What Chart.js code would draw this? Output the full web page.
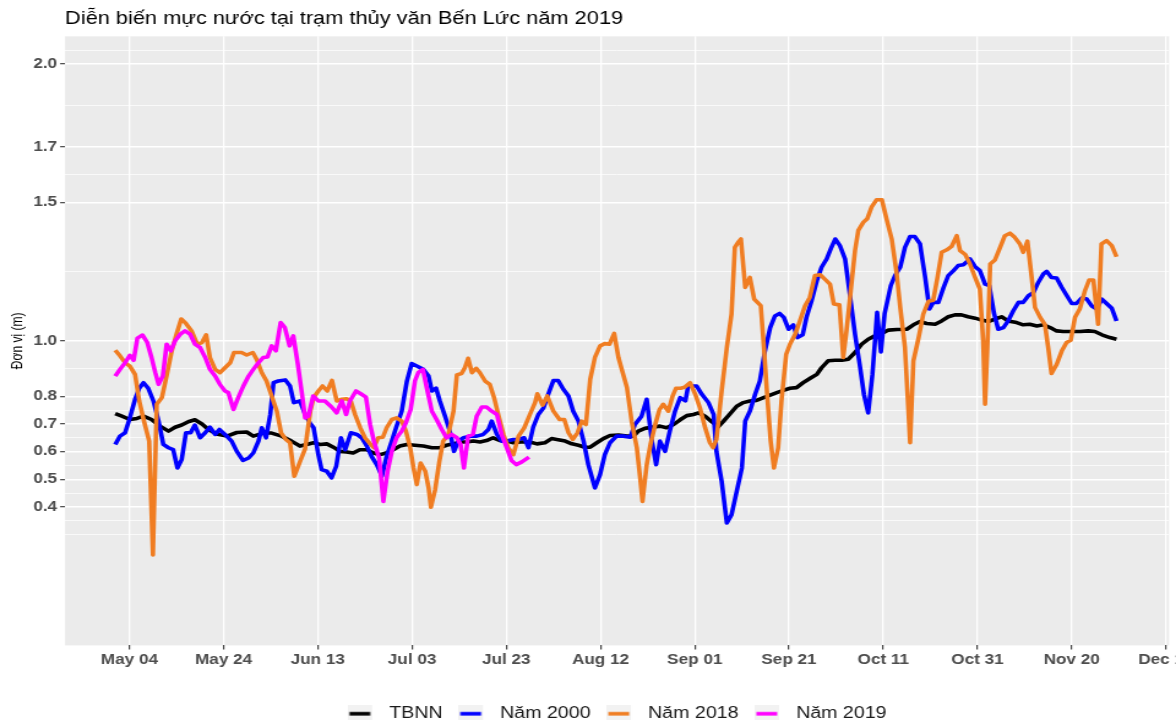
<!DOCTYPE html>
<html><head><meta charset="utf-8">
<script src="https://cdn.jsdelivr.net/npm/chart.js@4.4.1/dist/chart.umd.min.js"></script>
<style>
html,body{margin:0;padding:0;background:#fff;overflow:hidden;width:1176px;height:720px;}
#wrap{position:absolute;left:0;top:0;width:1000px;height:740px;transform:scaleX(1.225);transform-origin:0 0;}
canvas{display:block;}
</style></head><body>
<div id="wrap"><canvas id="c" width="1000" height="740"></canvas></div>
<script>
// Day offsets counted from 2019-05-01 (day 0) ; values in metres
const tickDays   = [3, 23, 43, 63, 83, 103, 123, 143, 163, 183, 203, 223];
const tickLabels = ['May 04','May 24','Jun 13','Jul 03','Jul 23','Aug 12','Sep 01','Sep 21','Oct 11','Oct 31','Nov 20','Dec 10'];
const yMajorTicks = [0.4, 0.5, 0.6, 0.7, 0.8, 1.0, 1.5, 1.7, 2.0];
const yMinorTicks = [0.3, 0.35, 0.45, 0.55, 0.65, 0.75, 0.9, 1.25, 1.6, 1.85, 2.05];

const tbnnDays = [0,1.4,3.1,4.6,6,7.7,9.5,11.3,12.7,14.1,15.5,16.9,18.4,19.8,21.5,23.7,25.8,27.9,29.3,31.4,33.2,35.3,37.4,39.2,40.6,42.1,43.5,44.9,46.3,47.7,49.1,50.5,51.9,53.4,54.8,56.2,57.5,59,60.4,61.9,63.6,65.4,67.2,68.9,70.3,71.8,73.2,74.6,76,77.4,78.8,80.2,81.7,83.1,84.5,86,88,89.5,91.2,92.6,94,95.5,96.9,98.3,99.7,100.8,102.2,103.6,105,106.8,108.6,110,111,112.4,113.9,115.6,117,118.5,119.9,121.3,122.7,123.8,125.2,126.6,128,129.1,130.5,131.9,133.3,134.7,136.1,137.6,139,140.4,141.8,143.2,144.6,146,147.5,148.9,149.9,151.3,152.8,154.2,155.6,157,158.4,159.8,161.2,162.7,164.1,165.9,168,169.4,170.8,172.2,174,175.4,176.8,178.2,179.6,181,182.5,183.9,185.3,186.7,188.1,189.5,191.3,192.7,194.1,195.6,197,198.4,199.8,201.2,203,204.8,206.5,207.9,209.4,211.1,212.5];
const tbnnValues = [0.737,0.728,0.716,0.72,0.728,0.716,0.692,0.674,0.688,0.696,0.708,0.715,0.70,0.68,0.664,0.656,0.669,0.671,0.656,0.667,0.667,0.656,0.638,0.62,0.626,0.632,0.626,0.628,0.616,0.601,0.599,0.595,0.607,0.607,0.595,0.589,0.595,0.607,0.62,0.626,0.623,0.62,0.614,0.614,0.623,0.628,0.635,0.635,0.638,0.635,0.64,0.65,0.64,0.638,0.632,0.635,0.635,0.628,0.632,0.647,0.643,0.638,0.628,0.623,0.616,0.616,0.632,0.647,0.658,0.66,0.656,0.656,0.674,0.684,0.688,0.692,0.686,0.698,0.715,0.73,0.734,0.74,0.728,0.708,0.69,0.71,0.737,0.764,0.777,0.783,0.785,0.795,0.804,0.813,0.821,0.829,0.831,0.849,0.865,0.879,0.903,0.928,0.93,0.93,0.934,0.958,0.988,1.006,1.018,1.027,1.039,1.041,1.042,1.058,1.07,1.063,1.06,1.072,1.087,1.094,1.094,1.087,1.082,1.075,1.07,1.079,1.087,1.072,1.066,1.058,1.06,1.054,1.058,1.048,1.036,1.034,1.034,1.034,1.036,1.034,1.022,1.012,1.006];

const y2000Days = [0,1,2.1,3.1,4.2,5.1,6,7,8.1,9.2,10.2,11.3,12.3,13.2,14.1,15,16,16.9,18,19.1,20.1,21.2,22.1,23.3,24.7,25.8,27.1,28.3,29.3,30.4,31.1,32,32.9,33.6,34.6,36.1,37.1,37.9,39.2,40.3,41.3,42.1,43.1,43.8,44.9,45.9,46.9,47.9,48.8,50,51.3,52.3,53.4,54.4,55.5,56.6,57.5,58.7,59.7,60.8,61.9,62.9,64,65.4,66.5,67.2,68.1,68.9,70,71,71.9,72.8,73.9,75.3,76.7,78.1,79.2,79.9,81,82,83.1,84.5,85.6,86.8,87.7,88.7,89.8,90.9,91.9,93,94,95.1,96.2,97.2,98.3,99.4,100.4,101.8,102.9,103.9,105,106.4,107.8,109.3,110.3,111.7,112.8,113.9,114.8,115.6,116.7,117.7,118.8,119.9,121,121.6,123.4,124.5,125.9,127,127.6,128.7,129.8,130.8,131.9,133,133.7,134.7,135.8,136.8,137.9,139,140,141,141.9,142.9,143.9,144.8,145.9,146.7,147.8,148.9,149.9,151,152,152.8,153.8,154.9,155.9,157,158.1,158.9,159.8,160.7,161.7,162.5,163.3,164.6,165.5,166.6,167.6,168.7,169.7,170.8,171.9,172.8,173.6,174.7,175.8,176.8,177.9,178.9,180,181.4,182.5,183.5,184.6,185.5,186.5,187.4,188.5,189.5,190.6,191.7,192.7,193.8,194.9,195.9,197,197.7,198.7,199.8,200.9,201.9,203,204,205.1,206.2,207.2,208.3,209.4,210.4,211.5,212.5];
const y2000Values = [0.626,0.656,0.668,0.722,0.789,0.829,0.849,0.829,0.783,0.71,0.626,0.614,0.607,0.541,0.571,0.668,0.668,0.696,0.65,0.668,0.688,0.662,0.68,0.662,0.638,0.601,0.568,0.577,0.595,0.638,0.686,0.65,0.734,0.849,0.855,0.859,0.837,0.777,0.783,0.734,0.704,0.686,0.589,0.535,0.529,0.505,0.547,0.65,0.607,0.668,0.662,0.65,0.62,0.583,0.553,0.511,0.577,0.638,0.692,0.746,0.855,0.918,0.909,0.897,0.873,0.819,0.829,0.783,0.728,0.674,0.601,0.638,0.65,0.656,0.656,0.662,0.68,0.71,0.662,0.638,0.638,0.644,0.644,0.65,0.614,0.688,0.734,0.758,0.807,0.857,0.857,0.825,0.801,0.746,0.71,0.638,0.553,0.469,0.517,0.589,0.632,0.656,0.656,0.652,0.698,0.728,0.789,0.638,0.553,0.638,0.601,0.674,0.746,0.795,0.783,0.837,0.837,0.807,0.777,0.734,0.60,0.493,0.342,0.372,0.457,0.541,0.71,0.746,0.807,0.855,0.964,1.048,1.09,1.099,1.085,1.042,1.058,1.012,1.022,1.085,1.145,1.217,1.266,1.296,1.338,1.368,1.344,1.296,1.169,1.024,0.903,0.807,0.74,0.879,1.103,0.96,1.10,1.2,1.236,1.266,1.338,1.377,1.377,1.35,1.229,1.115,1.139,1.139,1.193,1.236,1.254,1.272,1.275,1.296,1.268,1.254,1.205,1.2,1.1,1.042,1.048,1.072,1.109,1.139,1.139,1.163,1.175,1.211,1.242,1.251,1.229,1.227,1.193,1.165,1.135,1.135,1.155,1.151,1.127,1.115,1.151,1.135,1.118,1.072];

const y2018Days = [0,1,2.1,3.1,4.2,5.1,6.1,7.2,8,8.8,9.9,10.9,12,13,14,15,16.2,17.4,18.4,19.3,20.1,21.2,22.2,23.3,24.4,25.2,26.8,27.9,29.2,30,31.1,32.1,33.2,34.3,35.2,36.2,37.1,38,39.1,40.3,41.4,42.1,43.1,44,45,46,47,48.1,49.1,50,50.9,52,53,54.1,54.9,55.8,56.8,57.6,58.7,59.7,60.8,61.7,62.6,63.3,64,64.8,65.8,66.5,67,67.9,68.8,69.6,70.7,71.8,72.5,73.5,74.2,74.9,75.7,76.6,77.4,78.5,79.5,80.4,81.3,82.4,83.4,84.5,85.6,86.8,88,89.1,89.6,90.7,91.7,93,94.3,95.3,96.2,97.1,98.1,99,99.9,100.8,101.8,102.9,103.9,104.9,105.9,106.8,107.7,108.6,109.6,110.7,111.4,111.9,112.8,113.6,114.6,115.5,116.3,117.4,118.3,119,120,120.9,122,123.1,124.1,125.2,126.2,126.9,127.6,128.7,129.8,130.8,131.5,132.2,132.8,133.7,134.7,135.6,136.3,137,137.7,138.4,139.1,139.8,140.7,141.4,142.4,143.2,144.3,145.3,146.4,147.4,148.5,149.6,150.6,151.7,152.5,153.7,154.5,155.2,156.1,157,157.7,158.8,159.6,160.5,161.6,162.7,163.7,164.8,165.8,166.6,167.6,168.7,169.4,170.5,171.5,172.6,173.6,174.5,175.4,176.5,177.5,178.6,179.3,180.4,181.4,182.5,183.5,184.2,184.6,185.1,185.7,186.7,187.8,188.8,189.9,190.9,192,192.7,193.6,194.5,195.2,196.3,197.3,198,198.7,199.8,200.9,201.9,202.8,203.7,204.7,205.8,206.7,207.6,208.6,209.3,210.4,211.5,212.5];
const y2018Values = [0.966,0.946,0.921,0.909,0.879,0.783,0.71,0.638,0.227,0.771,0.795,0.873,0.964,1.024,1.079,1.063,1.036,0.988,0.994,1.022,0.94,0.897,0.885,0.903,0.921,0.958,0.958,0.949,0.958,0.934,0.885,0.855,0.801,0.746,0.668,0.644,0.632,0.511,0.559,0.61,0.746,0.795,0.819,0.837,0.819,0.857,0.783,0.789,0.791,0.783,0.734,0.686,0.65,0.628,0.614,0.65,0.652,0.686,0.716,0.722,0.71,0.674,0.614,0.541,0.481,0.559,0.529,0.469,0.399,0.463,0.565,0.638,0.662,0.746,0.877,0.882,0.903,0.937,0.885,0.901,0.885,0.855,0.843,0.795,0.734,0.662,0.614,0.589,0.656,0.686,0.734,0.777,0.809,0.768,0.801,0.746,0.716,0.716,0.668,0.644,0.668,0.71,0.698,0.861,0.94,0.982,0.99,0.988,1.027,0.94,0.885,0.831,0.71,0.614,0.505,0.42,0.553,0.626,0.698,0.752,0.771,0.746,0.801,0.829,0.829,0.833,0.849,0.807,0.758,0.686,0.632,0.614,0.644,0.819,0.976,1.097,1.338,1.356,1.368,1.193,1.229,1.151,1.139,1.127,0.97,0.795,0.638,0.541,0.614,0.783,0.952,0.988,1.024,1.072,1.127,1.157,1.236,1.239,1.223,1.205,1.133,1.13,0.94,1.036,1.181,1.326,1.399,1.429,1.441,1.483,1.51,1.51,1.44,1.368,1.25,1.121,0.976,0.632,0.928,1.012,1.097,1.143,1.147,1.229,1.32,1.329,1.341,1.38,1.326,1.312,1.278,1.229,1.187,1.0,0.771,0.976,1.278,1.292,1.338,1.38,1.389,1.374,1.35,1.32,1.36,1.229,1.121,1.085,1.06,0.976,0.882,0.915,0.964,0.994,1.002,1.085,1.115,1.181,1.22,1.22,1.06,1.35,1.362,1.344,1.304];

const y2019Days = [0,1,2.1,3.1,3.9,4.7,5.8,6.8,7.7,8.5,9.2,10.1,10.9,11.8,12.7,13.8,14.8,15.9,16.9,18,19.1,20.1,21.2,22.2,23.3,24,25.1,26.1,27.2,28.3,29.3,30.4,31.4,32.3,33.2,34.1,35.1,36,37,37.8,38.7,39.6,40.3,41,42,43.1,44.5,45.9,47,48.1,49,49.8,51.1,52.1,53.2,54.1,54.9,56,56.9,57.8,58.7,59.7,60.8,61.7,62.7,63.6,64.3,65.3,66.1,67.2,68.2,69.3,70.3,71.4,72.5,73.3,74,74.9,75.9,76.7,77.8,78.8,79.9,81,82,83.1,84.1,85.1,86.3,87.8];
const y2019Values = [0.873,0.897,0.921,0.948,0.93,1.01,1.021,0.994,0.94,0.885,0.843,0.873,0.988,0.964,1.0,1.024,1.036,1.024,0.988,0.976,0.94,0.897,0.873,0.843,0.819,0.813,0.752,0.795,0.837,0.873,0.897,0.921,0.94,0.942,0.982,0.964,1.066,1.048,0.982,1.018,0.921,0.813,0.722,0.728,0.801,0.783,0.783,0.761,0.74,0.783,0.734,0.783,0.819,0.809,0.797,0.698,0.638,0.577,0.42,0.529,0.601,0.65,0.674,0.704,0.752,0.855,0.885,0.897,0.831,0.746,0.716,0.68,0.65,0.662,0.65,0.626,0.541,0.656,0.662,0.728,0.761,0.761,0.746,0.734,0.662,0.614,0.568,0.553,0.563,0.58];

const seriesNames  = ['TBNN', 'Năm 2000', 'Năm 2018', 'Năm 2019'];
const seriesColors = ['#000000', '#0000FF', '#F07D22', '#FF00FF'];

const toXY = (d, v) => d.map((x, i) => ({x: x, y: v[i]}));
const isMajor = v => yMajorTicks.some(m => Math.abs(m - v) < 1e-6);
const yAllTicks = yMajorTicks.concat(yMinorTicks).sort((a, b) => a - b);

function makeKey(color) {
  const c = document.createElement('canvas');
  c.width = 26; c.height = 18;
  const g = c.getContext('2d');
  g.fillStyle = '#F2F2F2'; g.fillRect(0, 0, 20, 18);
  g.strokeStyle = color; g.lineWidth = 3.6;
  g.beginPath(); g.moveTo(1.5, 9); g.lineTo(18.5, 9); g.stroke();
  return c;
}
const keys = seriesColors.map(makeKey);

const panelBg = {
  id: 'panelBg',
  beforeDraw(chart) {
    const {ctx, chartArea: a} = chart;
    ctx.save();
    ctx.fillStyle = '#FFFFFF'; ctx.fillRect(0, 0, chart.width, chart.height);
    ctx.fillStyle = '#EBEBEB'; ctx.fillRect(a.left, a.top, a.right - a.left, a.bottom - a.top);
    ctx.restore();
  }
};

const allData = [toXY(tbnnDays, tbnnValues), toXY(y2000Days, y2000Values), toXY(y2018Days, y2018Values), toXY(y2019Days, y2019Values)];
const tickFont = {family: 'Liberation Sans', size: 14, weight: 'bold'};

new Chart(document.getElementById('c'), {
  type: 'line',
  data: {
    datasets: allData.map((d, i) => ({
      label: seriesNames[i], data: d,
      borderColor: seriesColors[i], backgroundColor: seriesColors[i],
      borderWidth: 3.6, pointRadius: 0, tension: 0, fill: false,
      borderJoinStyle: 'round', order: 4 - i
    }))
  },
  options: {
    responsive: false, devicePixelRatio: 1, animation: false,
    layout: {padding: {left: 0, right: 45.7, top: 0, bottom: 8.3}},
    plugins: {
      tooltip: {enabled: false},
      title: {
        display: true, text: 'Diễn biến mực nước tại trạm thủy văn Bến Lức năm 2019',
        align: 'start', fullSize: false, color: '#000',
        font: {family: 'Liberation Sans', size: 17.8, weight: 'normal'},
        padding: {top: 8, bottom: 7}
      },
      legend: {
        position: 'bottom', fullSize: false,
        labels: {
          usePointStyle: true, pointStyleWidth: 26, padding: 13,
          color: '#1a1a1a', font: {family: 'Liberation Sans', size: 16},
          generateLabels: chart => Chart.defaults.plugins.legend.labels.generateLabels(chart)
            .map(it => Object.assign({}, it, {pointStyle: keys[it.datasetIndex]}))
            .sort((a, b) => a.datasetIndex - b.datasetIndex)
        }
      }
    },
    scales: {
      x: {
        type: 'linear', min: -10.65, max: 223.65,
        afterBuildTicks: s => { s.ticks = tickDays.map(v => ({value: v})); },
        afterFit: s => { s.height = 47.3; },
        ticks: {
          autoSkip: false, maxRotation: 0, padding: 2, color: '#4d4d4d', font: tickFont,
          callback: v => { const i = tickDays.indexOf(v); return i >= 0 ? tickLabels[i] : ''; }
        },
        grid: {color: '#FFFFFF', lineWidth: 1.3, tickLength: 4, tickColor: '#333333', tickWidth: 1.1},
        border: {display: false}
      },
      y: {
        type: 'linear', min: -0.1, max: 2.1,
        afterBuildTicks: s => { s.ticks = yAllTicks.map(v => ({value: v})); },
        afterFit: s => { s.width = 53.1; },
        ticks: {
          autoSkip: false, padding: 2.5, color: '#4d4d4d', font: tickFont,
          callback: v => isMajor(v) ? v.toFixed(1) : ''
        },
        grid: {
          color: '#FFFFFF',
          lineWidth: c => (c.tick && isMajor(c.tick.value)) ? 1.4 : 0.7,
          tickLength: 4,
          tickColor: c => (c.tick && isMajor(c.tick.value)) ? '#333333' : 'rgba(0,0,0,0)',
          tickWidth: 1.1
        },
        border: {display: false},
        title: {display: true, text: 'Đơn vị (m)', color: '#000', font: {family: 'Liberation Sans', size: 12}, padding: {top: 7, bottom: 0}}
      }
    }
  },
  plugins: [panelBg]
});
</script></body></html>
